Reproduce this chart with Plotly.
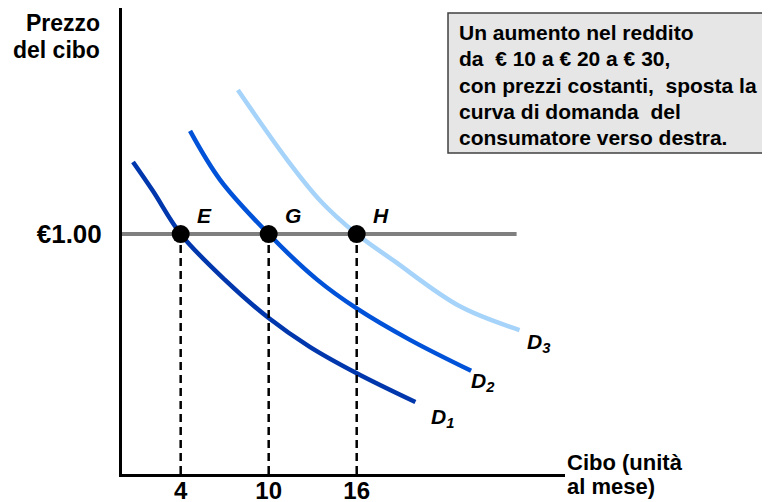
import plotly.graph_objects as go

# domanda del consumatore a tre livelli di reddito (quantita', prezzo)
d1_qty = [0.75, 2.1, 4, 7.0, 10, 12.8, 16, 20.0]
d1_price = [1.30, 1.18, 1.0, 0.81, 0.65, 0.53, 0.42, 0.30]
d2_qty = [4.64, 6.7, 10, 13.3, 16, 19.6, 23.8]
d2_price = [1.43, 1.225, 1.0, 0.81, 0.69, 0.56, 0.43]
d3_qty = [7.9, 11.25, 13.5, 16, 18.5, 23.0, 27.1]
d3_price = [1.60, 1.31, 1.14, 1.0, 0.89, 0.70, 0.60]

curve_names = ["D<sub>1</sub>", "D<sub>2</sub>", "D<sub>3</sub>"]
curve_colors = ["#0037ad", "#0052d9", "#a6d3fa"]

price_level = 1.0
price_line_qty = [0, 26.9]
eq_qty = [4, 10, 16]
eq_names = ["E", "G", "H"]
qty_ticks = ["4", "10", "16"]
price_tick = "€1.00"

box_lines = [
    "Un aumento nel reddito",
    "da  € 10 a € 20 a € 30,",
    "con prezzi costanti,  sposta la",
    "curva di domanda  del",
    "consumatore verso destra.",
]

FONT = "Arial, Liberation Sans, sans-serif"
# the page body has an 8px margin at top/left
W, H = 762, 494
L, R, T, B = 114, 205, 0, 28


def px_x(p):
    # window pixel -> paper x
    return (p - 8 - L) / (W - L - R)


def px_y(p):
    # window pixel -> paper y
    return (H - B - (p - 8)) / (H - T - B)


fig = go.Figure()

curves = [(d1_qty, d1_price), (d2_qty, d2_price), (d3_qty, d3_price)]
label_shift = [(27, -16), (12, -11), (19, -13)]
for (qx, qy), name, col, (sx, sy) in zip(curves, curve_names, curve_colors, label_shift):
    fig.add_trace(go.Scatter(x=qx, y=qy, mode="lines",
                             line=dict(color=col, width=4.5, shape="spline"),
                             hoverinfo="skip"))
    fig.add_annotation(x=qx[-1], y=qy[-1], text="<b><i>" + name + "</i></b>",
                       showarrow=False, xshift=sx, yshift=sy,
                       font=dict(family=FONT, size=21, color="black"))

fig.add_trace(go.Scatter(x=price_line_qty, y=[price_level] * 2, mode="lines",
                         line=dict(color="#7f7f7f", width=4), hoverinfo="skip"))

for q in eq_qty:
    fig.add_trace(go.Scatter(x=[q, q], y=[0, price_level], mode="lines",
                             line=dict(color="black", width=2.5, dash="8px,5px"),
                             hoverinfo="skip"))

fig.add_trace(go.Scatter(x=eq_qty, y=[price_level] * len(eq_qty), mode="markers",
                         marker=dict(color="black", size=18), hoverinfo="skip"))

for q, name in zip(eq_qty, eq_names):
    fig.add_annotation(x=q, y=price_level, text="<b><i>" + name + "</i></b>",
                       showarrow=False, xshift=24, yshift=19,
                       font=dict(family=FONT, size=21, color="black"))

# titoli degli assi
for txt, yc in [("Prezzo", 23), ("del cibo", 50)]:
    fig.add_annotation(xref="paper", yref="paper", x=px_x(102), y=px_y(yc),
                       xanchor="right", yanchor="middle", text="<b>" + txt + "</b>",
                       showarrow=False, font=dict(family=FONT, size=23, color="black"))
for txt, yc in [("Cibo (unità", 462), ("al mese)", 486)]:
    fig.add_annotation(xref="paper", yref="paper", x=px_x(565), y=px_y(yc),
                       xanchor="left", yanchor="middle", text="<b>" + txt + "</b>",
                       showarrow=False, font=dict(family=FONT, size=22, color="black"))

# riquadro con il commento
fig.add_shape(type="rect", xref="paper", yref="paper",
              x0=px_x(448), x1=px_x(769), y0=px_y(153), y1=px_y(13),
              fillcolor="#e6e6e6", line=dict(color="#404040", width=1.5), layer="below")
for i, txt in enumerate(box_lines):
    fig.add_annotation(xref="paper", yref="paper", x=px_x(457), y=px_y(33 + 26 * i),
                       xanchor="left", yanchor="middle", text="<b>" + txt + "</b>",
                       showarrow=False, font=dict(family=FONT, size=21, color="black"))

fig.update_layout(
    width=W, height=H,
    margin=dict(l=L, r=R, t=T, b=B),
    plot_bgcolor="white", paper_bgcolor="white",
    showlegend=False,
    xaxis=dict(range=[0, 30.2], showgrid=False, zeroline=False, automargin=False,
               showline=True, linecolor="black", linewidth=3,
               tickvals=eq_qty, ticktext=qty_ticks, ticks="",
               ticklabelstandoff=-7,
               tickfont=dict(family=FONT, size=24, color="black", weight="bold")),
    yaxis=dict(range=[0, 1.942], showgrid=False, zeroline=False, automargin=False,
               showline=True, linecolor="black", linewidth=3,
               tickvals=[price_level], ticktext=[price_tick], ticks="",
               ticklabelstandoff=12,
               tickfont=dict(family=FONT, size=26, color="black", weight="bold")),
)

fig.write_html("out.html")
